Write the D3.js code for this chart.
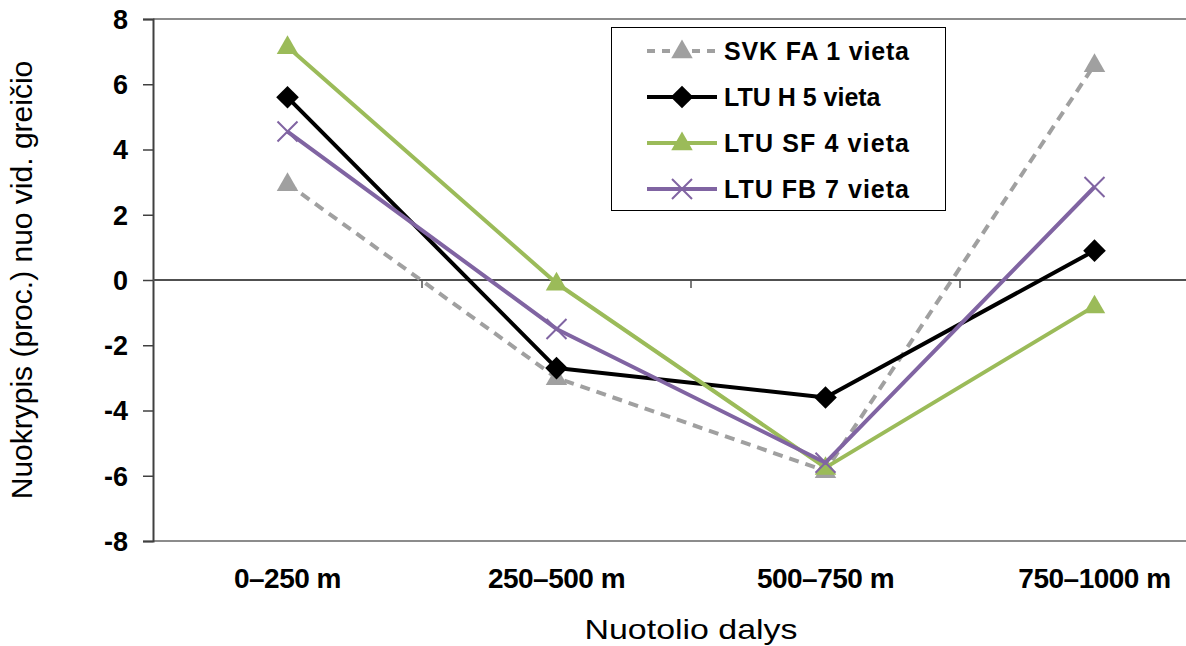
<!DOCTYPE html>
<html><head><meta charset="utf-8">
<script src="https://cdn.jsdelivr.net/npm/d3@7"></script>
<style>body{margin:0;background:#fff}svg{display:block}</style>
</head><body>
<svg id="c" width="1186" height="646"></svg>
<script>
const categories = ["0–250 m","250–500 m","500–750 m","750–1000 m"];
const seriesNames = ["SVK FA 1 vieta","LTU H 5 vieta","LTU SF 4 vieta","LTU FB 7 vieta"];
const svkFA = [2.95, -3.0, -5.85, 6.6];
const ltuH = [5.6, -2.7, -3.6, 0.9];
const ltuSF = [7.15, -0.1, -5.75, -0.8];
const ltuFB = [4.55, -1.5, -5.6, 2.85];
const yTicks = [-8,-6,-4,-2,0,2,4,6,8];

(function(){
const series = [
  {name: seriesNames[0], values: svkFA, color: "#a0a0a0", dash: "10,7", marker: "triangle"},
  {name: seriesNames[1], values: ltuH, color: "#000000", dash: null, marker: "diamond"},
  {name: seriesNames[2], values: ltuSF, color: "#9bbb59", dash: null, marker: "triangle"},
  {name: seriesNames[3], values: ltuFB, color: "#8064a2", dash: null, marker: "x"}
];
const FONT = "Liberation Sans, Arial, sans-serif";

const svg = d3.select("#c");
const mLeft = 153, mTop = 19, mBottom = 541, bandW = 269;
const x = d3.scaleBand().domain(categories).range([mLeft, mLeft + bandW*categories.length]).padding(0);
const y = d3.scaleLinear().domain([-8, 8]).range([mBottom, mTop]);
const cx = c => x(c) + x.bandwidth()/2;

svg.append("line").attr("x1", mLeft).attr("x2", 1186).attr("y1", mTop).attr("y2", mTop).attr("stroke", "#8c8c8c").attr("stroke-width", 2);
svg.append("line").attr("x1", mLeft).attr("x2", 1186).attr("y1", mBottom).attr("y2", mBottom).attr("stroke", "#8c8c8c").attr("stroke-width", 2);

const yAxis = d3.axisLeft(y).tickValues(yTicks).tickSize(10).tickPadding(15).tickFormat(d => String(d));
const yg = svg.append("g").attr("transform", `translate(${mLeft},0)`).call(yAxis);
yg.select(".domain").attr("stroke", "#404040").attr("stroke-width", 2);
yg.selectAll(".tick line").attr("stroke", "#404040").attr("stroke-width", 1.5);
yg.selectAll(".tick text").attr("font-family", FONT).attr("font-weight", "bold").attr("font-size", 27).attr("fill", "#000").attr("dy", "0.35em");

const zg = svg.append("g").attr("transform", `translate(0,${y(0)})`);
zg.append("line").attr("x1", mLeft).attr("x2", 1186).attr("stroke", "#505050").attr("stroke-width", 2);
zg.selectAll("line.tk").data(categories.slice(1)).enter().append("line").attr("class","tk")
  .attr("x1", d => x(d)).attr("x2", d => x(d)).attr("y1", 0).attr("y2", 8).attr("stroke", "#505050").attr("stroke-width", 1.5);

svg.selectAll("text.cat").data(categories).enter().append("text").attr("class","cat")
  .attr("x", d => cx(d)).attr("y", 588).attr("text-anchor","middle")
  .attr("font-family", FONT).attr("font-weight","bold").attr("font-size", 28).attr("letter-spacing", -0.5)
  .text(d => d);

svg.append("text").attr("x", 691).attr("y", 639).attr("text-anchor","middle")
  .attr("font-family", FONT).attr("font-size", 28).attr("textLength", 213).attr("lengthAdjust","spacingAndGlyphs").text("Nuotolio dalys");
svg.append("text").attr("transform", "translate(32,280) rotate(-90)").attr("text-anchor","middle")
  .attr("font-family", FONT).attr("font-size", 30).text("Nuokrypis (proc.) nuo vid. greičio");

function drawMarker(g, type, color, px, py) {
  if (type === "triangle") {
    g.append("path").attr("d", d3.symbol(d3.symbolTriangle, 200)()).attr("transform", `translate(${px},${py+1})`).attr("fill", color);
  } else if (type === "diamond") {
    g.append("rect").attr("x", -8).attr("y", -8).attr("width", 16).attr("height", 16)
      .attr("transform", `translate(${px},${py}) rotate(45)`).attr("fill", color);
  } else {
    g.append("path").attr("d", "M-10,-10L10,10M-10,10L10,-10").attr("transform", `translate(${px},${py})`).attr("stroke", color).attr("stroke-width", 2).attr("fill","none");
  }
}

const line = d3.line().x((d,i) => cx(categories[i])).y(d => y(d));
series.forEach(s => {
  const g = svg.append("g");
  g.append("path").datum(s.values).attr("d", line).attr("fill","none").attr("stroke", s.color)
    .attr("stroke-width", 4).attr("stroke-dasharray", s.dash).attr("stroke-linejoin","round");
  s.values.forEach((v,i) => drawMarker(g, s.marker, s.color, cx(categories[i]), y(v)));
});

const lg = svg.append("g");
lg.append("rect").attr("x", 611.5).attr("y", 27.5).attr("width", 334).attr("height", 183).attr("fill","#fff").attr("stroke","#000").attr("stroke-width",1);
const ly = [51, 97, 143, 189];
series.forEach((s,i) => {
  lg.append("line").attr("x1", 647).attr("x2", 717).attr("y1", ly[i]).attr("y2", ly[i]).attr("stroke", s.color).attr("stroke-width", 4).attr("stroke-dasharray", s.dash ? "8,7" : null);
  drawMarker(lg, s.marker, s.color, 682, ly[i]);
  lg.append("text").attr("x", 724).attr("y", ly[i] + 9).attr("font-family", FONT).attr("font-weight","bold").attr("font-size", 25).attr("textLength", s.name.length > 13 ? 185 : null).text(s.name);
});
})();
</script>
</body></html>
